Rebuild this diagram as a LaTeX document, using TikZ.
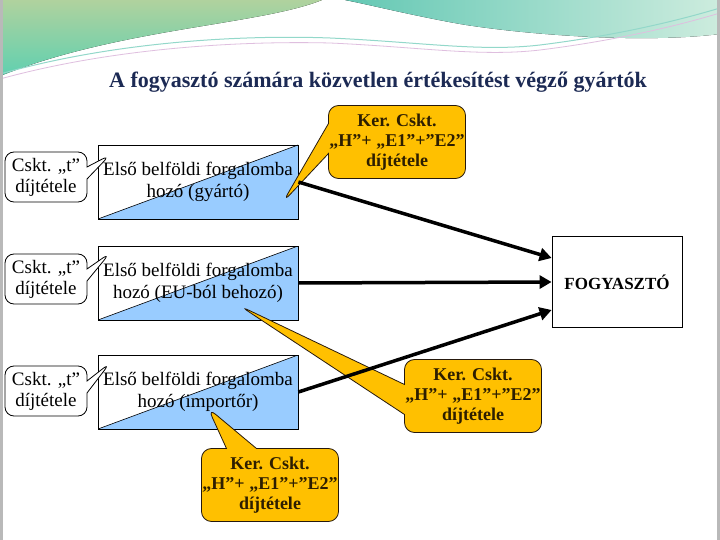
\documentclass[tikz,border=0pt]{standalone}
\usepackage{fontspec}
\setmainfont{Liberation Serif}
\usetikzlibrary{arrows.meta,shapes.callouts,calc}

\definecolor{boxblue}{RGB}{153,204,255}
\definecolor{gold}{RGB}{255,192,0}
\definecolor{kerbrown}{RGB}{45,30,0}
\definecolor{titlenavy}{RGB}{28,42,84}
\definecolor{sage}{RGB}{176,210,158}
\definecolor{mint}{RGB}{96,208,176}
\definecolor{teal2}{RGB}{100,200,180}
\definecolor{palemint}{RGB}{205,236,222}

\begin{document}
\begin{tikzpicture}[
  x=1pt,y=-1pt,
  font=\fontsize{19}{22}\selectfont,
  szereplo/.style={draw=black,line width=0.8pt,minimum width=200pt,minimum height=74pt,
    align=center,inner sep=2pt,
    path picture={
      \fill[boxblue] (path picture bounding box.south west) -- (path picture bounding box.north east)
        -- (path picture bounding box.south east) -- cycle;
      \draw[line width=0.6pt] (path picture bounding box.south west) -- (path picture bounding box.north east);}},
  cskt/.style={rectangle callout,rounded corners=9pt,draw=black,fill=white,line width=0.8pt,
    minimum width=82pt,minimum height=50pt,align=center,inner sep=1pt,
    callout pointer width=12pt,font=\fontsize{19}{21}\selectfont},
  ker/.style={rectangle callout,rounded corners=10pt,draw=black!80!brown,fill=gold,line width=0.8pt,
    minimum width=132pt,minimum height=73pt,align=center,inner sep=1pt,
    callout pointer width=30pt,text=kerbrown,font=\bfseries\fontsize{18}{20}\selectfont},
  nyil/.style={line width=3.5pt,-{Triangle[length=12pt,width=13pt]}},
  cim/.style={text=titlenavy,font=\bfseries\fontsize{22}{26}\selectfont}
]
\useasboundingbox (0,0) rectangle (720,540);

% ---- slide background ----
\fill[white] (0,0) rectangle (720,540);
\fill[top color=sage,bottom color=mint] (0,0) -- (322,0) .. controls (260,25) and (120,28) .. (0,76) -- cycle;
\fill[left color=teal2,right color=palemint] (345,0) -- (720,0) -- (720,34)
  .. controls (640,44) and (520,34) .. (460,24) .. controls (410,15) and (375,6) .. (345,0) -- cycle;
\draw[teal2!70,line width=1pt] (0,74) .. controls (120,40) and (250,35) .. (330,38)
  .. controls (420,42) and (480,52) .. (540,45) .. controls (620,35) and (680,20) .. (720,8);
\draw[violet!25,line width=0.8pt] (0,79) .. controls (120,46) and (250,41) .. (330,43)
  .. controls (420,47) and (480,57) .. (540,50) .. controls (620,40) and (680,25) .. (720,13);
\fill[gray!55] (0,0) rectangle (3,540);
\fill[gray!55] (717,0) rectangle (720,540);

% ---- title ----
\node[cim] (cim) at (378,82) {A fogyasztó számára közvetlen értékesítést végző gyártók};

% ---- first domestic distributors ----
\node[szereplo] (g1) at (198,182) {Első belföldi forgalomba\\hozó (gyártó)};
\node[szereplo] (g2) at (198,283) {Első belföldi forgalomba\\hozó (EU-ból behozó)};
\node[szereplo] (g3) at (198,392) {Első belföldi forgalomba\\hozó (importőr)};

\node[draw=black,line width=0.8pt,minimum width=130pt,minimum height=91pt,
      font=\bfseries\fontsize{17}{20}\selectfont] (fogy) at (617,282) {FOGYASZTÓ};

% ---- "t" callouts ----
\coordinate (t1) at (110,155);
\coordinate (t2) at (110,253);
\coordinate (t3) at (110,363);
\node[cskt,callout absolute pointer=(t1)] (c1) at (46,177) {Cskt. „t”\\díjtétele};
\node[cskt,callout absolute pointer=(t2)] (c2) at (46,279) {Cskt. „t”\\díjtétele};
\node[cskt,callout absolute pointer=(t3)] (c3) at (46,391) {Cskt. „t”\\díjtétele};

% ---- "H"+"E1"+"E2" callouts ----
\coordinate (h1) at (283,202);
\coordinate (h2) at (240,306);
\coordinate (h3) at (208,408);
\node[ker,callout absolute pointer=(h1)] (k1) at (397,142) {Ker. Cskt.\\„H”+ „E1”+”E2”\\díjtétele};
\node[ker,callout absolute pointer=(h2)] (k2) at (473,396) {Ker. Cskt.\\„H”+ „E1”+”E2”\\díjtétele};
\node[ker,callout absolute pointer=(h3)] (k3) at (270,485) {Ker. Cskt.\\„H”+ „E1”+”E2”\\díjtétele};

% ---- sales to the consumer ----
\draw[nyil] (g1.east) -- ([yshift=24pt]fogy.west);
\draw[nyil] (g2.east) -- (fogy.west);
\draw[nyil] (g3.east) -- ([yshift=-28pt]fogy.west);

\end{tikzpicture}
\end{document}
